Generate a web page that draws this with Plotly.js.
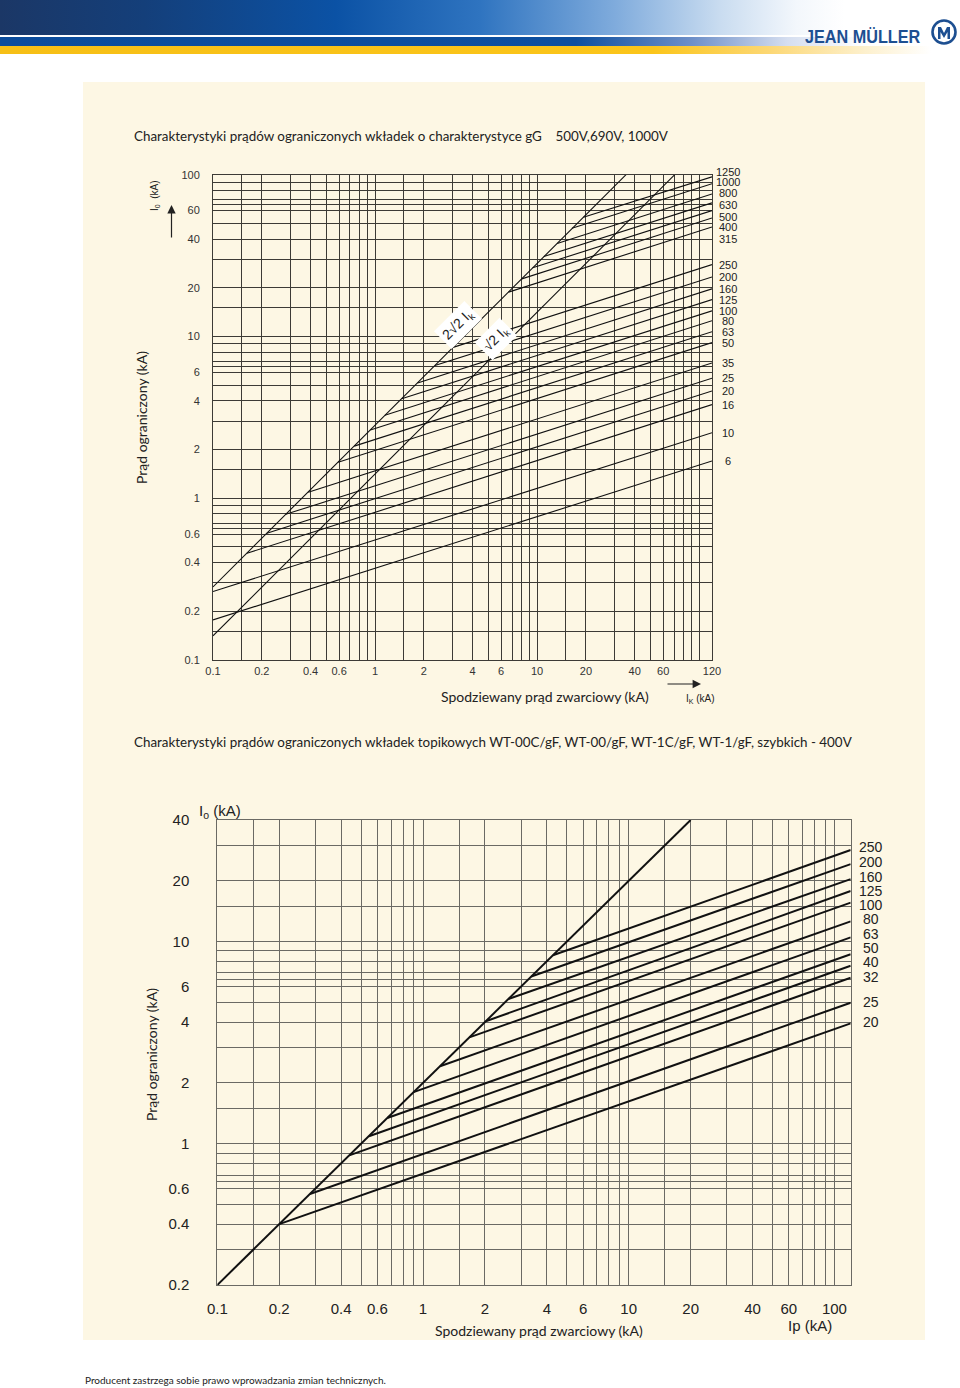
<!DOCTYPE html>
<html>
<head>
<meta charset="utf-8">
<script src="https://cdn.plot.ly/plotly-3.0.1.min.js"></script>
<style>
  html, body { margin: 0; padding: 0; background: #ffffff; }
  #page { position: relative; width: 960px; height: 1388px; overflow: hidden; }
  #chart { position: absolute; left: 0; top: 0; width: 960px; height: 1388px; }
  .band { position: absolute; left: 0; width: 960px; }
  #photo { top: 0; height: 35px;
    background: linear-gradient(90deg, #1b3766 0%, #143f7a 15%, #0b52a5 35%, #2f74c0 50%, #7fabdc 64%, #c9dcf0 75%, #f3f7fc 83%, #ffffff 88%); }
  #blue { top: 37px; height: 9px;
    background: linear-gradient(90deg, #0b4c9c 0%, #0d4f9f 60%, #6d8fc8 72%, #d5def0 82%, rgba(255,255,255,0) 90%); }
  #yellow { top: 46px; height: 8px;
    background: linear-gradient(90deg, #f6bf16 0%, #fbc51a 68%, #fcd773 80%, #fdf0cc 90%, rgba(255,255,255,0) 97%); }
  #logo { position: absolute; left: 805px; top: 27px; font-family: 'Liberation Sans', Arial, sans-serif;
    font-weight: bold; font-size: 18px; color: #1d4f91; transform: scaleX(0.9); transform-origin: left top; white-space: nowrap; }
  #emblem { position: absolute; left: 930px; top: 18px; }
</style>
</head>
<body>
<div id="page">
  <div id="chart"></div>
  <div class="band" id="photo"></div>
  <div class="band" id="blue"></div>
  <div class="band" id="yellow"></div>
  <div id="logo">JEAN MÜLLER</div>
  <svg id="emblem" width="28" height="28" viewBox="0 0 28 28">
    <circle cx="14" cy="14" r="11.5" fill="none" stroke="#1d4f91" stroke-width="2.6"/>
    <path d="M8 21 L8 9 L11 9 L14 15 L17 9 L20 9 L20 21 L17.5 21 L17.5 14 L14 20 L10.5 14 L10.5 21 Z" fill="#1d4f91"/>
  </svg>
</div>
<script>
// ---- chart 1: gG fuses 500V / 690V / 1000V ----
const ratings1 = ['1250', '1000', '800', '630', '500', '400', '315', '250', '200', '160', '125', '100', '80', '63', '50', '35', '25', '20', '16', '10', '6'];
const start1X = [19.3, 16.4, 13.3, 11.0, 9.39, 8.04, 6.66, 3.03, 2.34, 1.83, 1.46, 1.15, 0.935, 0.744, 0.592, 0.387, 0.281, 0.215, 0.162, 0.1, 0.1];
const start1Y = [54.5, 46.6, 37.6, 31.2, 26.6, 22.7, 18.8, 8.56, 6.61, 5.16, 4.12, 3.26, 2.64, 2.10, 1.67, 1.09, 0.795, 0.608, 0.457, 0.265, 0.177];
const end1Y = [97, 88, 76, 67, 60, 54, 47.5, 27.8, 23.3, 19.7, 16.9, 14.4, 12.5, 10.7, 9.16, 6.86, 5.52, 4.60, 3.79, 2.54, 1.70];
const end1X = 120;
const peak2X = [0.1, 35.4];     // 2*sqrt(2)*Ik
const peak2Y = [0.283, 100];
const peak1X = [0.1, 70.7];     // sqrt(2)*Ik
const peak1Y = [0.141, 100];
const xLabels1 = [0.1, 0.2, 0.4, 0.6, 1, 2, 4, 6, 10, 20, 40, 60, 120];
const yLabels1 = [0.1, 0.2, 0.4, 0.6, 1, 2, 4, 6, 10, 20, 40, 60, 100];

// ---- chart 2: WT gF fast fuses 400V ----
const ratings2 = ['250', '200', '160', '125', '100', '80', '63', '50', '40', '32', '25', '20'];
const start2X = [4.28, 3.36, 2.60, 2.02, 1.68, 1.21, 0.90, 0.67, 0.546, 0.438, 0.282, 0.2];
const start2Y = [8.56, 6.72, 5.20, 4.04, 3.36, 2.42, 1.80, 1.34, 1.09, 0.876, 0.564, 0.4];
const end2Y = [28.4, 24.2, 20.4, 17.8, 15.6, 12.6, 10.5, 8.66, 7.60, 6.63, 4.99, 3.94];
const end2X = 120;
const diag2X = [0.1, 20];
const diag2Y = [0.2, 40];
const xLabels2 = [0.1, 0.2, 0.4, 0.6, 1, 2, 4, 6, 10, 20, 40, 60, 100];
const yLabels2 = [0.2, 0.4, 0.6, 1, 2, 4, 6, 10, 20, 40];

// page helpers (pixel -> paper)
const W = 960, H = 1388;
const px = v => v / W;
const py = v => 1 - v / H;

const textFont = 'Lato, "Open Sans", sans-serif';
const narrow = '"Liberation Sans Narrow", "Arial Narrow", "Liberation Sans", sans-serif';
const arial = '"Liberation Sans", Arial, sans-serif';

// grid positions on a log axis
function gridVals(lo, hi, mults) {
  let out = [];
  for (let d = Math.floor(Math.log10(lo)); d <= Math.ceil(Math.log10(hi)); d++) {
    mults.forEach(m => {
      let v = Number((m * Math.pow(10, d)).toPrecision(6));
      if (v >= lo * 0.999 && v <= hi * 1.001 && !out.includes(v)) out.push(v);
    });
  }
  if (!out.includes(hi)) out.push(hi);
  return out.sort((a, b) => a - b);
}
function labelsFor(vals, shown) {
  return vals.map(v => shown.some(s => Math.abs(s - v) < 1e-9) ? String(v) : '');
}

const gx1 = gridVals(0.1, 120, [1, 1.5, 2, 3, 4, 5, 6, 7, 8, 9]);
const gy1 = gridVals(0.1, 100, [1, 1.5, 2, 3, 4, 5, 6, 6.5, 7, 8, 9]);
const gx2 = gridVals(0.1, 120, [1, 1.5, 2, 3, 4, 5, 6, 7, 8, 9]);
const gy2 = gridVals(0.2, 40, [1, 1.5, 2, 3, 4, 5, 6, 6.5, 7, 8, 9]);

let traces = [];
ratings1.forEach((r, i) => {
  traces.push({ x: [start1X[i], end1X], y: [start1Y[i], end1Y[i]], xaxis: 'x', yaxis: 'y',
    type: 'scatter', mode: 'lines', name: r, line: { color: '#111', width: 1.1 }, hoverinfo: 'skip' });
});
traces.push({ x: peak2X, y: peak2Y, xaxis: 'x', yaxis: 'y', type: 'scatter', mode: 'lines', line: { color: '#111', width: 1.1 } });
traces.push({ x: peak1X, y: peak1Y, xaxis: 'x', yaxis: 'y', type: 'scatter', mode: 'lines', line: { color: '#111', width: 1.1 } });

ratings2.forEach((r, i) => {
  traces.push({ x: [start2X[i], end2X], y: [start2Y[i], end2Y[i]], xaxis: 'x2', yaxis: 'y2',
    type: 'scatter', mode: 'lines', name: r, line: { color: '#111', width: 2 }, hoverinfo: 'skip' });
});
traces.push({ x: diag2X, y: diag2Y, xaxis: 'x2', yaxis: 'y2', type: 'scatter', mode: 'lines', line: { color: '#111', width: 2 } });

const grid1 = '#3d3b36', grid2 = '#6b6a64';

function logAxis(domain, range, vals, shown, color, font, anchor, standoff) {
  return {
    type: 'log', domain: domain, range: range, anchor: anchor,
    tickmode: 'array', tickvals: vals, ticktext: labelsFor(vals, shown), tickangle: 0,
    showgrid: true, gridcolor: color, gridwidth: 1, zeroline: false,
    showline: true, mirror: true, linecolor: color, linewidth: 1,
    ticks: '', tickfont: font, ticklabelstandoff: standoff, fixedrange: true
  };
}

// label positions of the ratings on the right side (page pixels)
const lab1Y = [171.7, 182, 193, 205, 216.7, 227, 239, 264.7, 277, 289, 299.7, 310.7, 321, 332, 342.7, 363, 378.3, 391, 404.7, 432.7, 461];
const lab2Y = [847, 862, 877, 891, 905, 919, 934, 948, 962, 977, 1002, 1022];

let ann = [];
function txt(x, y, text, size, family, extra) {
  ann.push(Object.assign({ xref: 'paper', yref: 'paper', x: px(x), y: py(y), text: text, showarrow: false,
    font: { size: size, family: family, color: '#222' }, xanchor: 'center', yanchor: 'middle' }, extra || {}));
}

txt(132, 136, 'Charakterystyki prądów ograniczonych wkładek o charakterystyce gG\u00a0\u00a0\u00a0 500V,690V, 1000V', 13.4, textFont, { xanchor: 'left' });
txt(141, 418, 'Prąd ograniczony (kA)', 14, textFont, { textangle: -90 });
txt(545, 696, 'Spodziewany prąd zwarciowy (kA)', 14, textFont);
txt(155, 196, 'I<sub>0</sub>\u00a0\u00a0(kA)', 10, arial, { textangle: -90 });
txt(700, 699, 'I<sub>K</sub> (kA)', 10, arial);
ratings1.forEach((r, i) => txt(728, lab1Y[i], r, 11, narrow));
txt(458, 325, '2√2 I<sub>k</sub>', 14, arial, { textangle: -45, bgcolor: '#ffffff', borderpad: 3 });
txt(496, 339, '√2 I<sub>k</sub>', 14, arial, { textangle: -45, bgcolor: '#ffffff', borderpad: 3 });
// arrows
ann.push({ xref: 'paper', yref: 'paper', x: px(171.5), y: py(205), ax: 0, ay: 34, text: '', showarrow: true,
  arrowhead: 2, arrowsize: 1.4, arrowwidth: 1.2, arrowcolor: '#222' });
ann.push({ xref: 'paper', yref: 'paper', x: px(701), y: py(684), ax: -35, ay: 0, text: '', showarrow: true,
  arrowhead: 2, arrowsize: 1.4, arrowwidth: 1.2, arrowcolor: '#222' });

txt(132, 742, 'Charakterystyki prądów ograniczonych wkładek topikowych WT-00C/gF, WT-00/gF, WT-1C/gF, WT-1/gF, szybkich - 400V', 13.4, textFont, { xanchor: 'left' });
txt(151, 1055, 'Prąd ograniczony (kA)', 14, textFont, { textangle: -90 });
txt(539, 1330, 'Spodziewany prąd zwarciowy (kA)', 14, textFont);
txt(197, 811, 'I<sub>o</sub> (kA)', 15, arial, { xanchor: 'left' });
txt(810, 1325, 'Ip (kA)', 15, arial);
ratings2.forEach((r, i) => txt(871, lab2Y[i], r, 14, arial));

txt(83, 1380, 'Producent zastrzega sobie prawo wprowadzania zmian technicznych.', 10, textFont, { xanchor: 'left' });

const layout = {
  width: W, height: H, margin: { l: 0, r: 0, t: 0, b: 0 },
  paper_bgcolor: 'rgba(0,0,0,0)', plot_bgcolor: 'rgba(0,0,0,0)',
  showlegend: false,
  xaxis: logAxis([px(213), px(712)], [-1, Math.log10(120)], gx1, xLabels1, grid1,
    { family: narrow, size: 11, color: '#333' }, 'y', 1),
  yaxis: logAxis([py(660), py(174.7)], [-1, 2], gy1, yLabels1, grid1,
    { family: narrow, size: 11, color: '#333' }, 'x', 10),
  xaxis2: logAxis([px(217.3), px(850.7)], [-1, Math.log10(120)], gx2, xLabels2, grid2,
    { family: arial, size: 15, color: '#222' }, 'y2', 10),
  yaxis2: logAxis([py(1285), py(820)], [Math.log10(0.2), Math.log10(40)], gy2, yLabels2, grid2,
    { family: arial, size: 15, color: '#222' }, 'x2', 24),
  shapes: [{ type: 'rect', xref: 'paper', yref: 'paper', x0: px(83), x1: px(925), y0: py(1340), y1: py(82),
    fillcolor: '#fdf7e4', line: { width: 0 }, layer: 'below' }],
  annotations: ann
};

Plotly.newPlot('chart', traces, layout, { staticPlot: true, displayModeBar: false });
</script>
</body>
</html>
